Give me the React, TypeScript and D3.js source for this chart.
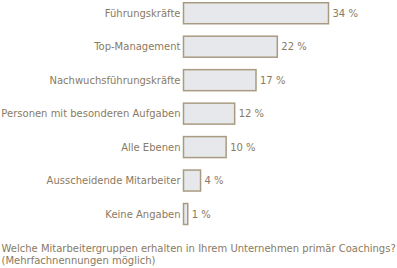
import React from "react";
import * as d3 from "d3";

const categories = [
  "Führungskräfte",
  "Top-Management",
  "Nachwuchsführungskräfte",
  "Personen mit besonderen Aufgaben",
  "Alle Ebenen",
  "Ausscheidende Mitarbeiter",
  "Keine Angaben",
];
const values = [34, 22, 17, 12, 10, 4, 1];
const titleLines = [
  "Welche Mitarbeitergruppen erhalten in Ihrem Unternehmen primär Coachings?",
  "(Mehrfachnennungen möglich)",
];

const W = 397;
const H = 268;
const x0 = 183.5;
const textColor = "#8a7a62";
const font = "'DejaVu Sans', Verdana, sans-serif";
const fs = 10;

export default function App() {
  const x = d3.scaleLinear().domain([0, 34]).range([0, 145]);
  const y = d3
    .scaleBand<string>()
    .domain(categories)
    .range([2.75, 224.5])
    .paddingInner(0.373)
    .paddingOuter(0);
  return (
    <svg
      width={W}
      height={H}
      style={{ position: "absolute", left: 0, top: 0 }}
      fontFamily={font}
    >
      {categories.map((c, i) => {
        const yy = y(c)!;
        const w = Math.max(x(values[i]), 3);
        const cy = yy + y.bandwidth() / 2;
        return (
          <g key={c}>
            <rect
              x={x0}
              y={yy}
              width={w}
              height={y.bandwidth()}
              fill="#e7e8ec"
              stroke="#a99b82"
              strokeWidth={1.5}
            />
            <text
              x={x0 - 3}
              y={cy}
              dy="0.36em"
              textAnchor="end"
              fontSize={fs}
              fill={textColor}
            >
              {c}
            </text>
            <text
              x={x0 + w + 4}
              y={cy}
              dy="0.36em"
              fontSize={fs}
              fill={textColor}
            >
              {values[i]} %
            </text>
          </g>
        );
      })}
      {titleLines.map((t, i) => (
        <text key={i} x={1.5} y={252 + i * 11.5} fontSize={fs} fill={textColor}>
          {t}
        </text>
      ))}
    </svg>
  );
}
